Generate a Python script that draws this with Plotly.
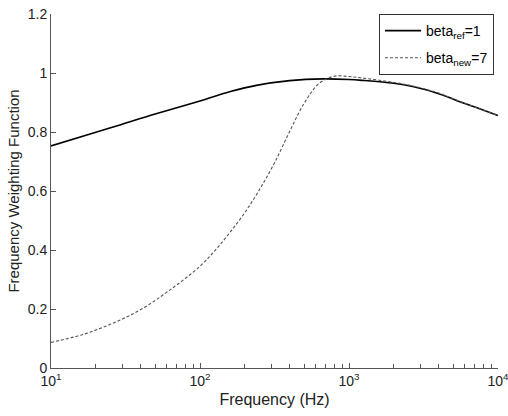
import plotly.graph_objects as go

# Frequency weighting curves for two beta values
freq_ref = [10, 20, 29, 50, 100, 160, 239, 400, 667, 1000, 1230, 2000, 2675, 4000, 5210, 7000, 10000]
w_ref = [0.753, 0.799, 0.824, 0.861, 0.905, 0.937, 0.958, 0.974, 0.980, 0.978, 0.975, 0.965, 0.954, 0.93, 0.908, 0.885, 0.856]

freq_new = [10, 16, 25, 40, 63, 100, 126, 158, 200, 251, 316, 398, 501, 631, 794, 1000, 1230, 2000, 2675, 4000, 5210, 7000, 10000]
w_new = [0.087, 0.112, 0.148, 0.198, 0.265, 0.345, 0.398, 0.458, 0.527, 0.605, 0.695, 0.800, 0.898, 0.965, 0.989, 0.988, 0.983, 0.968, 0.956, 0.932, 0.909, 0.885, 0.856]

x_ticks = [10, 100, 1000, 10000]
x_tick_text = ["10<sup>1</sup>", "10<sup>2</sup>", "10<sup>3</sup>", "10<sup>4</sup>"]
minor_ticks = [m * d for d in (10, 100, 1000) for m in range(2, 10)]
y_ticks = [0, 0.2, 0.4, 0.6, 0.8, 1.0, 1.2]
y_tick_text = ["0", "0.2", "0.4", "0.6", "0.8", "1", "1.2"]

fig = go.Figure()
fig.add_trace(go.Scatter(
    x=freq_ref, y=w_ref, mode="lines", line_shape="spline",
    line=dict(color="black", width=1.6),
    name="beta<sub>ref</sub>=1", legendgroup="ref",
))
fig.add_trace(go.Scatter(
    x=freq_new, y=w_new, mode="lines", line_shape="spline",
    line=dict(color="#555555", width=1.1, dash="3px,2px"),
    name="beta<sub>new</sub>=7", legendgroup="new",
))

base_font = "Liberation Sans, Arial, sans-serif"

fig.update_layout(
    width=508, height=416,
    margin=dict(l=51, r=10, t=14, b=48),
    paper_bgcolor="white", plot_bgcolor="white",
    font=dict(family=base_font, size=13, color="#222222"),
    showlegend=True,
    legend=dict(
        x=0.991, y=1.0, xanchor="right", yanchor="top",
        bordercolor="#333333", borderwidth=1, bgcolor="white",
        font=dict(family=base_font, size=14, color="black"),
        tracegroupgap=6, itemwidth=36,
    ),
    xaxis=dict(
        type="log", range=[1, 4], automargin=False,
        tickvals=x_ticks, ticktext=x_tick_text,
        tickfont=dict(size=14), ticklabeloverflow="allow",
        ticks="inside", ticklen=5, tickcolor="#555555",
        minor=dict(tickvals=minor_ticks, ticks="inside", ticklen=4, tickcolor="#555555"),
        showline=True, linecolor="#555555", linewidth=1,
        showgrid=False, zeroline=False,
        title=dict(text="Frequency (Hz)", standoff=6),
    ),
    yaxis=dict(
        range=[0, 1.2], automargin=False,
        tickvals=y_ticks, ticktext=y_tick_text,
        tickfont=dict(size=14),
        ticks="inside", ticklen=5, tickcolor="#555555",
        showline=True, linecolor="#555555", linewidth=1,
        showgrid=False, zeroline=False,
        title=dict(text="Frequency Weighting Function", font=dict(family=base_font, size=15), standoff=4),
    ),
)

fig.write_html("out.html")
